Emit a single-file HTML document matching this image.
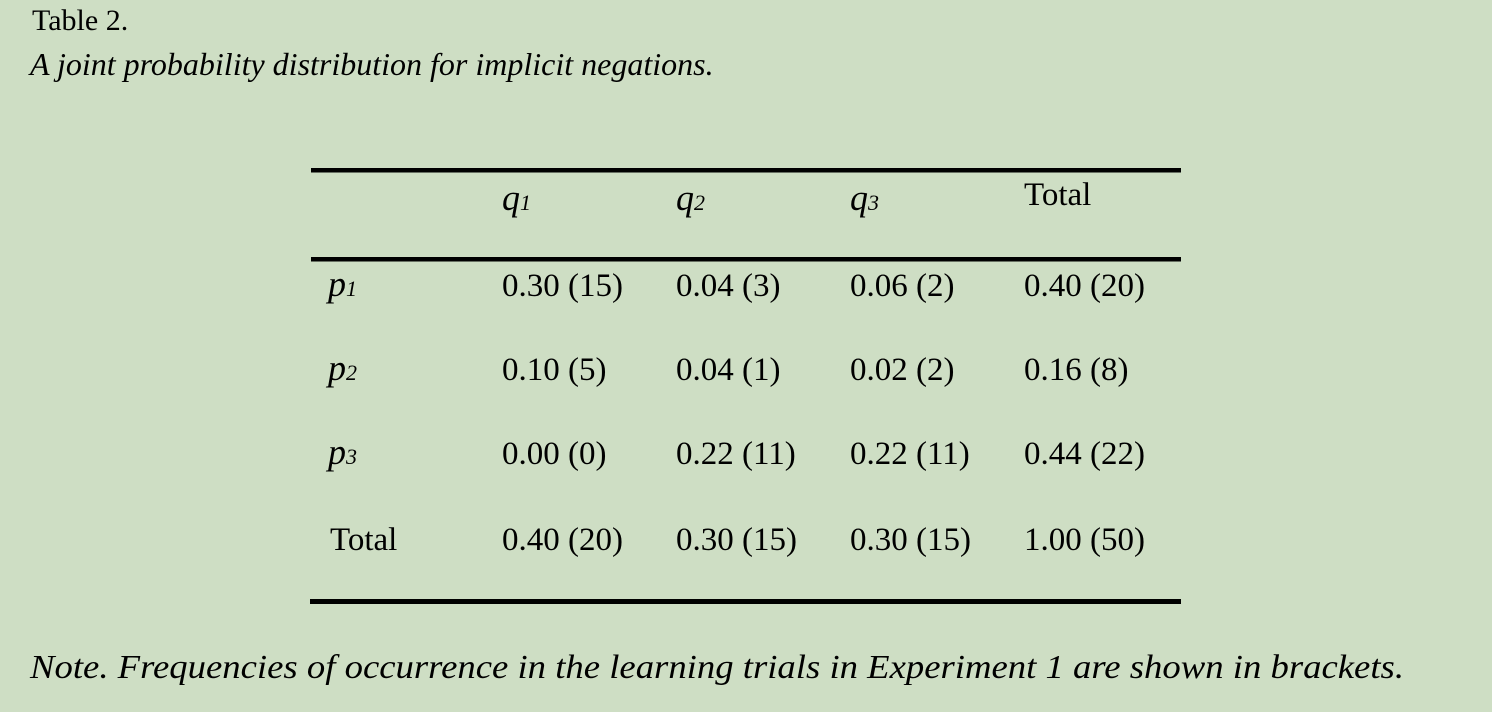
<!DOCTYPE html>
<html><head><meta charset="utf-8"><style>
html,body{margin:0;padding:0;background:#cedec4;overflow:hidden;}
svg{display:block;}
svg text, svg tspan{font-family:"Liberation Serif","Times New Roman",Times,serif;}
</style></head><body>
<svg width="1492" height="712" viewBox="0 0 1492 712" font-family="Liberation Serif, Times New Roman, serif">
<rect width="1492" height="712" fill="#cedec4"/>
<text x="32" y="30" font-size="30" fill="#000">Table 2.</text>
<text x="30" y="75" font-size="32" font-style="italic" fill="#000">A joint probability distribution for implicit negations.</text>
<rect x="311" y="168" width="870" height="4.5" fill="#000"/>
<rect x="311" y="257" width="870" height="4.5" fill="#000"/>
<rect x="310" y="599" width="871" height="5" fill="#000"/>
<g font-size="33" fill="#000">
<text x="502" y="210" font-style="italic" font-size="36">q<tspan font-size="22">1</tspan></text>
<text x="676" y="210" font-style="italic" font-size="36">q<tspan font-size="22">2</tspan></text>
<text x="850" y="210" font-style="italic" font-size="36">q<tspan font-size="22">3</tspan></text>
<text x="1024" y="205">Total</text>

<text x="328" y="296" font-style="italic" font-size="36">p<tspan font-size="22">1</tspan></text>
<text x="502" y="296">0.30 (15)</text>
<text x="676" y="296">0.04 (3)</text>
<text x="850" y="296">0.06 (2)</text>
<text x="1024" y="296">0.40 (20)</text>

<text x="328" y="380" font-style="italic" font-size="36">p<tspan font-size="22">2</tspan></text>
<text x="502" y="380">0.10 (5)</text>
<text x="676" y="380">0.04 (1)</text>
<text x="850" y="380">0.02 (2)</text>
<text x="1024" y="380">0.16 (8)</text>

<text x="328" y="464" font-style="italic" font-size="36">p<tspan font-size="22">3</tspan></text>
<text x="502" y="464">0.00 (0)</text>
<text x="676" y="464">0.22 (11)</text>
<text x="850" y="464">0.22 (11)</text>
<text x="1024" y="464">0.44 (22)</text>

<text x="330" y="550">Total</text>
<text x="502" y="550">0.40 (20)</text>
<text x="676" y="550">0.30 (15)</text>
<text x="850" y="550">0.30 (15)</text>
<text x="1024" y="550">1.00 (50)</text>
</g>
<text x="30" y="678" font-size="34" font-style="italic" fill="#000" textLength="1374" lengthAdjust="spacingAndGlyphs">Note. Frequencies of occurrence in the learning trials in Experiment 1 are shown in brackets.</text>
</svg>
</body></html>
